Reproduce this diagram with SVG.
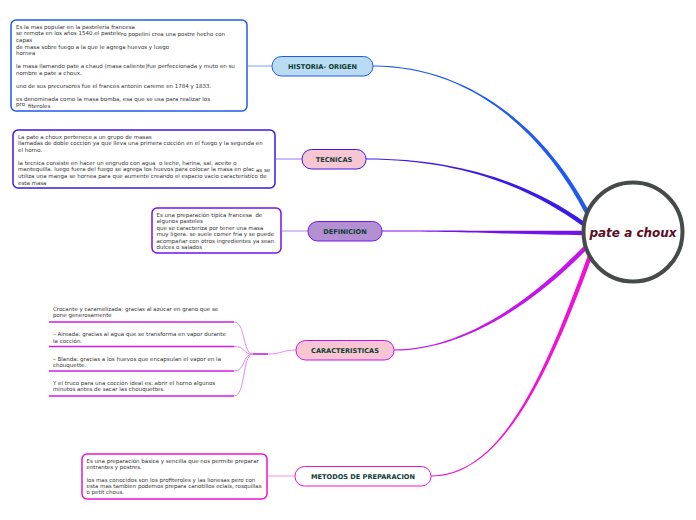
<svg xmlns="http://www.w3.org/2000/svg" width="696" height="520" viewBox="0 0 696 520">
<style>
.t{font-family:"DejaVu Sans",Verdana,sans-serif;font-size:5.5px;fill:#333333}
.lbl{font-family:"DejaVu Sans",Verdana,sans-serif;font-size:6.6px;font-weight:bold;fill:#0d3b36;text-anchor:middle}
.box{fill:#ffffff;stroke-width:1.5}
.nd{stroke-width:1}
.thin{fill:none;stroke-width:1}
</style>
<rect width="696" height="520" fill="#ffffff"/>
<g id="connectors">
<path d="M373,65.4 C470,65.4 546,129 590,213 L586,215 C543,131 470,66.6 373,66.6 Z" fill="#1f5af0"/>
<path d="M366,158.5 C460,158.5 531,183.5 586.3,223.2 L583.7,226.8 C529,186.5 460,159.5 366,159.5 Z" fill="#3a1ae8"/>
<path d="M382,230.5 C480,230.5 530,231 585,230.8 L585,235.2 C530,235 480,231.5 382,231.5 Z" fill="#7412ee"/>
<path d="M394,349.5 C465,349.5 533,298.5 585.4,244.5 L588.6,247.5 C537,301.5 465,350.5 394,350.5 Z" fill="#c414ec"/>
<path d="M431,475.5 C500,475.5 543,380 587.9,255.3 L592.1,256.7 C547,380 500,476.5 431,476.5 Z" fill="#f012d4"/>
<line x1="248" y1="66" x2="272" y2="66" stroke="#7fa0f0" class="thin"/>
<line x1="276" y1="159" x2="302" y2="159" stroke="#8c7cf0" class="thin"/>
<line x1="282" y1="231" x2="308" y2="231" stroke="#b480f0" class="thin"/>
<line x1="268" y1="476" x2="295" y2="476" stroke="#f48ee0" class="thin"/>
<g stroke="#e58af2" fill="none" stroke-width="1">
<path d="M234,322 C246,322 242,354 253,354"/>
<path d="M234,346.5 C246,346.5 242,354 253,354"/>
<path d="M234,371 C246,371 242,354 253,354"/>
<path d="M234,396 C246,396 242,354 253,354"/>
<path d="M268,354 C282,354 282,350 296,350"/>
</g>
<line x1="253" y1="354" x2="268" y2="354" stroke="#c81ee6" stroke-width="1.6"/>
</g>
<g id="center">
<circle cx="633" cy="232" r="49.5" fill="#ffffff" stroke="#474a4a" stroke-width="4"/>
<text x="633" y="236.5" text-anchor="middle" style="font-family:'DejaVu Sans',Verdana,sans-serif;font-size:12px;font-weight:bold;font-style:italic;fill:#5c0d22">pate a choux</text>
</g>
<g id="historia">
<rect x="272" y="56.5" width="101" height="19.5" rx="9.5" fill="#b9dcf2" stroke="#1f5af0" class="nd"/>
<text x="322.5" y="68.7" class="lbl">HISTORIA- ORIGEN</text>
</g>
<g id="historia-text">
<rect x="11" y="20" width="236" height="91" rx="5" stroke="#1f5af0" class="box"/>
<text class="t" x="16" y="28.5">Es la mas popular en la pastelería francesa</text>
<text class="t" x="16" y="34.5">se remota en los años 1540.el pastele</text>
<text class="t" x="121" y="36">ro popelini crea una postre hecho con</text>
<text class="t" x="16" y="41.5">capas</text>
<text class="t" x="16" y="48.5">de masa sobre fuego a la que le agrega huevos y luego</text>
<text class="t" x="16" y="54.5">hornea</text>
<text class="t" x="16" y="68">la masa llamando pate a chaud (masa caliente)fue perfeccionada y muto en su</text>
<text class="t" x="16" y="75">nombre a pate a choux.</text>
<text class="t" x="16" y="88">uno de sus precursores fue el francés antonin careme en 1784 y 1833.</text>
<text class="t" x="16" y="100.5">es denominada como la masa bomba, esa que se usa para realizar los</text>
<text class="t" x="16" y="106">pro</text>
<text class="t" x="28" y="107.5">fiteroles</text>
</g>
<g id="tecnicas">
<rect x="302" y="149.5" width="64" height="19.5" rx="9.5" fill="#f8c6d2" stroke="#3a1ae8" class="nd"/>
<text x="334" y="161.7" class="lbl">TECNICAS</text>
</g>
<g id="tecnicas-text">
<rect x="13" y="130" width="262" height="58" rx="5" stroke="#3a1ae8" class="box"/>
<text class="t" x="18" y="139">La pate a choux pertenece a un grupo de masas</text>
<text class="t" x="18" y="145">llamadas de doble cocción ya que lleva una primera cocción en el fuego y la segunda en</text>
<text class="t" x="18" y="151.5">el horno.</text>
<text class="t" x="18" y="164.5" xml:space="preserve">la tecnica consiste en hacer un engrudo con agua  o leche, harina, sal, aceite o</text>
<text class="t" x="18" y="171">mantequilla. luego fuera del fuego se agrega los huevos para colocar la masa en plac</text>
<text class="t" x="256" y="172">as se</text>
<text class="t" x="18" y="178">utiliza una manga se hornea para que aumente creando el espacio vacio característico de</text>
<text class="t" x="18" y="184.5">esta masa</text>
</g>
<g id="definicion">
<rect x="308" y="221.5" width="74" height="19.5" rx="9.5" fill="#b290d2" stroke="#7412ee" class="nd"/>
<text x="345" y="233.7" class="lbl">DEFINICION</text>
</g>
<g id="definicion-text">
<rect x="152" y="208" width="129" height="45" rx="5" stroke="#7412ee" class="box"/>
<text class="t" x="156.5" y="216.5" xml:space="preserve">Es una preparación típica francesa  de</text>
<text class="t" x="156.5" y="222.5">algunos pasteles</text>
<text class="t" x="156.5" y="229.8">que se caracteriza por tener una masa</text>
<text class="t" x="156.5" y="236">muy ligera. se suele comer fría y se puede</text>
<text class="t" x="156.5" y="242.5">acompañar con otros ingredientes ya sean</text>
<text class="t" x="156.5" y="249">dulces o salados</text>
</g>
<g id="caracteristicas">
<rect x="296" y="340.5" width="98" height="19.5" rx="9.5" fill="#f8c6d2" stroke="#c414ec" class="nd"/>
<text x="345" y="352.7" class="lbl">CARACTERISTICAS</text>
</g>
<g id="caracteristicas-items">
<text class="t" x="53" y="311">Crocante y caramelizada: gracias al azúcar en grano que se</text>
<text class="t" x="53" y="317">pone generosamente</text>
<line x1="49" y1="322" x2="234" y2="322" stroke="#d21ee6" stroke-width="1.5"/>
<text class="t" x="53" y="336">– Aireada: gracias al agua que se transforma en vapor durante</text>
<text class="t" x="53" y="343">la cocción.</text>
<line x1="49" y1="346.5" x2="234" y2="346.5" stroke="#d21ee6" stroke-width="1.5"/>
<text class="t" x="53" y="361">– Blanda: gracias a los huevos que encapsulan el vapor en la</text>
<text class="t" x="53" y="367">chouquette.</text>
<line x1="49" y1="371" x2="234" y2="371" stroke="#d21ee6" stroke-width="1.5"/>
<text class="t" x="53" y="385">Y el truco para una cocción ideal es: abrir el horno algunos</text>
<text class="t" x="53" y="391">minutos antes de sacar las chouquettes.</text>
<line x1="49" y1="396" x2="234" y2="396" stroke="#d21ee6" stroke-width="1.5"/>
</g>
<g id="metodos">
<rect x="295" y="466.5" width="136" height="19.5" rx="9.5" fill="#ffffff" stroke="#f012d4" class="nd"/>
<text x="363" y="478.7" class="lbl">METODOS DE PREPARACION</text>
</g>
<g id="metodos-text">
<rect x="82" y="454" width="185" height="45" rx="5" stroke="#f012d4" class="box"/>
<text class="t" x="86.5" y="462.5">Es una preparación básica y sencilla que nos permite preparar</text>
<text class="t" x="86.5" y="468.5">entrantes y postres.</text>
<text class="t" x="86.5" y="481.5">los mas conocidos son los profiteroles y las lionesas pero con</text>
<text class="t" x="86.5" y="487.5">esta mas tambien podemos prepara canotillos eclais, rosquillas</text>
<text class="t" x="86.5" y="494">o petit chous.</text>
</g>
</svg>
